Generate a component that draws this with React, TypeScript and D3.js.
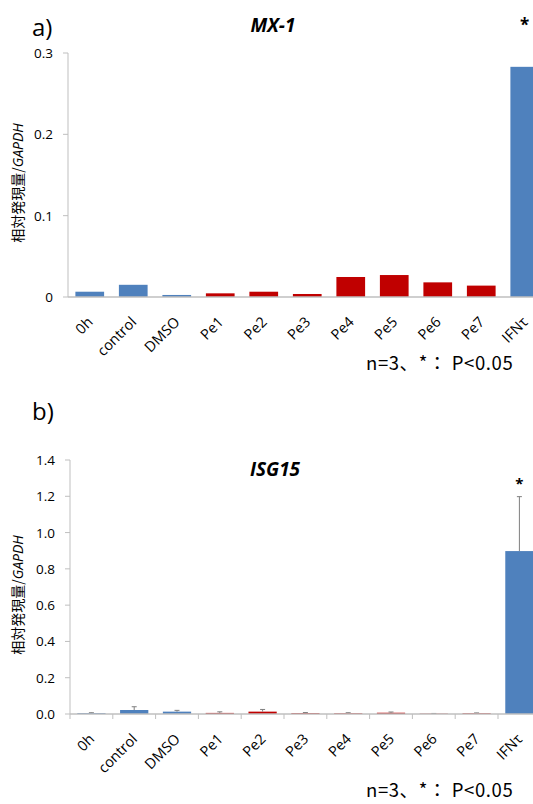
import { useEffect, useRef } from "react";
import * as d3 from "d3";

const CATEGORIES = ["0h", "control", "DMSO", "Pe1", "Pe2", "Pe3", "Pe4", "Pe5", "Pe6", "Pe7", "IFNτ"];
const BAR_COLORS = ["#4F81BD", "#4F81BD", "#4F81BD", "#C00000", "#C00000", "#C00000", "#C00000", "#C00000", "#C00000", "#C00000", "#4F81BD"];

// a) MX-1
const MX1_VALUES = [0.0065, 0.015, 0.0025, 0.0045, 0.0065, 0.0037, 0.0246, 0.027, 0.018, 0.014, 0.283];
const MX1_TICKS = [0, 0.1, 0.2, 0.3];

// b) ISG15
const ISG15_VALUES = [0.005, 0.022, 0.013, 0.006, 0.013, 0.005, 0.004, 0.007, 0.002, 0.004, 0.898];
const ISG15_ERRORS = [0.002, 0.018, 0.007, 0.006, 0.012, 0.003, 0.003, 0.004, 0.001, 0.002, 0.3];
const ISG15_TICKS = [0, 0.2, 0.4, 0.6, 0.8, 1.0, 1.2, 1.4];

const SIG = [false, false, false, false, false, false, false, false, false, false, true];

const FONT = "'Open Sans', 'Liberation Sans', sans-serif";
const JP = "'Noto Sans CJK JP', sans-serif";

type Panel = {
  letter: string;
  letterY: number;
  title: string;
  titleX: number;
  titleY: number;
  values: number[];
  errors: number[] | null;
  ticks: number[];
  fmt: (v: number) => string;
  x0: number;
  band: number;
  yTop: number;
  yBottom: number;
  yMax: number;
  xTicks: boolean;
  starY: number;
  starSize: number;
  labelY: number;
  noteY: number;
};

function drawPanel(svg: d3.Selection<SVGSVGElement, unknown, null, undefined>, p: Panel) {
  const g = svg.append("g");
  const x = d3.scaleBand<string>()
    .domain(CATEGORIES)
    .range([p.x0, p.x0 + p.band * CATEGORIES.length])
    .paddingInner(0.34)
    .paddingOuter(0.17);
  const y = d3.scaleLinear().domain([0, p.yMax]).range([p.yBottom, p.yTop]);

  // panel letter
  g.append("text")
    .attr("x", 32).attr("y", p.letterY)
    .attr("font-family", FONT).attr("font-size", 24)
    .text(p.letter);

  // title
  g.append("text")
    .attr("x", p.titleX).attr("y", p.titleY)
    .attr("text-anchor", "middle")
    .attr("font-family", FONT).attr("font-size", 19)
    .attr("font-weight", 700).attr("font-style", "italic")
    .text(p.title);

  // y axis
  g.append("line")
    .attr("x1", p.x0).attr("x2", p.x0)
    .attr("y1", y(p.ticks[p.ticks.length - 1])).attr("y2", p.yBottom)
    .attr("stroke", "#bfbfbf");
  p.ticks.forEach((t) => {
    g.append("line")
      .attr("x1", p.x0 - 5).attr("x2", p.x0)
      .attr("y1", y(t)).attr("y2", y(t))
      .attr("stroke", "#bfbfbf");
    g.append("text")
      .attr("x", p.x0 - 15).attr("y", y(t) + 5)
      .attr("text-anchor", "end")
      .attr("font-family", FONT).attr("font-size", 13.5)
      .text(p.fmt(t));
  });

  // y label
  const yl = g.append("text")
    .attr("transform", `translate(23,${(p.yTop + p.yBottom) / 2 + 8}) rotate(-90)`)
    .attr("text-anchor", "middle")
    .attr("font-size", 14);
  yl.append("tspan").attr("font-family", JP).text("相対発現量/");
  yl.append("tspan").attr("font-family", FONT).attr("font-style", "italic").text("GAPDH");

  // bars
  CATEGORIES.forEach((c, i) => {
    const v = p.values[i];
    g.append("rect")
      .attr("x", x(c)!)
      .attr("y", y(v))
      .attr("width", x.bandwidth())
      .attr("height", p.yBottom - y(v))
      .attr("fill", BAR_COLORS[i]);
  });

  // error bars
  if (p.errors) {
    CATEGORIES.forEach((c, i) => {
      const cx = x(c)! + x.bandwidth() / 2;
      const top = y(p.values[i] + p.errors![i]);
      g.append("line")
        .attr("x1", cx).attr("x2", cx)
        .attr("y1", y(p.values[i])).attr("y2", top)
        .attr("stroke", "#7f7f7f");
      g.append("line")
        .attr("x1", cx - 2.5).attr("x2", cx + 2.5)
        .attr("y1", top).attr("y2", top)
        .attr("stroke", "#7f7f7f");
    });
  }

  // x axis
  g.append("line")
    .attr("x1", p.x0).attr("x2", p.x0 + p.band * CATEGORIES.length)
    .attr("y1", p.yBottom).attr("y2", p.yBottom)
    .attr("stroke", "#bfbfbf").attr("stroke-width", 1.5);
  if (p.xTicks) {
    d3.range(CATEGORIES.length + 1).forEach((k) => {
      const tx = p.x0 + k * p.band;
      g.append("line")
        .attr("x1", tx).attr("x2", tx)
        .attr("y1", p.yBottom).attr("y2", p.yBottom + 5)
        .attr("stroke", "#bfbfbf");
    });
  }

  CATEGORIES.forEach((c) => {
    const cx = x(c)! + x.bandwidth() / 2;
    g.append("text")
      .attr("transform", `translate(${cx + 4},${p.labelY}) rotate(-45)`)
      .attr("text-anchor", "end")
      .attr("font-family", FONT).attr("font-size", 14.5)
      .text(c);
  });

  // significance stars
  CATEGORIES.forEach((c, i) => {
    if (!SIG[i]) return;
    g.append("text")
      .attr("x", x(c)! + x.bandwidth() / 2).attr("y", p.starY)
      .attr("text-anchor", "middle")
      .attr("font-family", FONT).attr("font-size", p.starSize).attr("font-weight", 700)
      .text("*");
  });

  // note
  g.append("text")
    .attr("x", 366).attr("y", p.noteY)
    .attr("font-family", JP).attr("font-size", 18.5)
    .attr("letter-spacing", 0.6)
    .text("n=3、*： P<0.05");
}

export default function App() {
  const svgRef = useRef<SVGSVGElement>(null);

  useEffect(() => {
    if (!svgRef.current) return;
    document.body.style.margin = "0";
    const svg = d3.select(svgRef.current);
    svg.selectAll("*").remove();

    drawPanel(svg, {
      letter: "a)", letterY: 36,
      title: "MX-1", titleX: 273, titleY: 32,
      values: MX1_VALUES, errors: null, ticks: MX1_TICKS,
      fmt: (v) => (v === 0 ? "0" : d3.format(".1f")(v)),
      x0: 68, band: 43.5, yTop: 53, yBottom: 297, yMax: 0.3,
      xTicks: false, starY: 31, starSize: 17, labelY: 323, noteY: 370,
    });

    drawPanel(svg, {
      letter: "b)", letterY: 420,
      title: "ISG15", titleX: 275, titleY: 476,
      values: ISG15_VALUES, errors: ISG15_ERRORS, ticks: ISG15_TICKS,
      fmt: d3.format(".1f"),
      x0: 70, band: 42.8, yTop: 460, yBottom: 714, yMax: 1.4,
      xTicks: true, starY: 489, starSize: 15, labelY: 740, noteY: 797,
    });
  }, []);

  return <svg ref={svgRef} width={533} height={804} style={{ display: "block", background: "#fff" }} />;
}
